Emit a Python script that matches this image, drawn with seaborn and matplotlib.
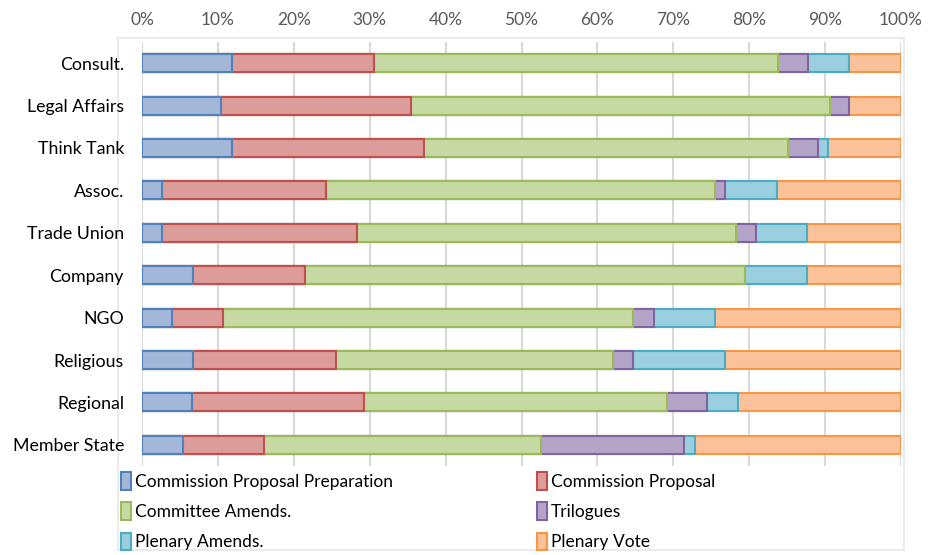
import matplotlib
matplotlib.use("Agg")
import matplotlib.pyplot as plt
from matplotlib.patches import Patch, Rectangle
import seaborn as sns
import pandas as pd
import numpy as np

categories = ["Consult.", "Legal Affairs", "Think Tank", "Assoc.", "Trade Union",
              "Company", "NGO", "Religious", "Regional", "Member State"]
stages = ["Commission Proposal Preparation", "Commission Proposal", "Committee Amends.",
          "Trilogues", "Plenary Amends.", "Plenary Vote"]

# share of each stage (%) per category
prop_prep = [11.9, 10.4, 11.9, 2.6, 2.6, 6.7, 4.0, 6.7, 6.6, 5.4]
prop      = [18.7, 25.0, 25.3, 21.6, 25.7, 14.8, 6.7, 18.9, 22.6, 10.7]
committee = [53.2, 55.2, 47.9, 51.3, 49.9, 58.0, 54.0, 36.4, 40.0, 36.5]
trilogues = [4.0, 2.6, 4.0, 1.3, 2.7, 0.0, 2.7, 2.7, 5.3, 18.8]
plen_amd  = [5.3, 0.0, 1.3, 6.8, 6.7, 8.1, 8.1, 12.1, 4.0, 1.4]
plen_vote = [6.9, 6.8, 9.6, 16.4, 12.4, 12.4, 24.5, 23.2, 21.5, 27.2]

fills = ["#A3B7D9", "#DB9C9A", "#C6D9A3", "#B4A5C8", "#9ACFDF", "#FBC29A"]
edges = ["#4F81BD", "#C0504D", "#9BBB59", "#8064A2", "#4BACC6", "#F79646"]

df = pd.DataFrame({"category": categories})
series = [prop_prep, prop, committee, trilogues, plen_amd, plen_vote]
cum = np.cumsum(np.array(series), axis=0)
for i, s in enumerate(stages):
    df[s] = cum[i]
# normalise last column to exactly 100
df[stages[-1]] = 100.0

plt.rcParams["font.family"] = ["Lato", "DejaVu Sans"]

fig = plt.figure(figsize=(9.38, 5.55), dpi=100)
ax = fig.add_axes([142 / 938, 1 - 466 / 555, 759 / 938, 424 / 555])

# overlap cumulative bars, longest first
for i in reversed(range(len(stages))):
    sns.barplot(data=df, x=stages[i], y="category", order=categories, orient="h",
                color=fills[i], edgecolor=edges[i], linewidth=1.5, width=0.42,
                saturation=1, ax=ax, zorder=3)

ax.set_xlim(0, 100)
ax.set_ylim(len(categories) - 0.5, -0.5)
ax.set_xticks(np.arange(0, 101, 10))
ax.set_xticklabels([f"{v}%" for v in range(0, 101, 10)])
ax.xaxis.tick_top()
ax.tick_params(axis="x", length=0, labelsize=12.5, colors="#595959", pad=10)
ax.tick_params(axis="y", length=0, labelsize=12.8, colors="black", pad=13)
ax.set_xlabel("")
ax.set_ylabel("")
ax.grid(axis="x", color="#D9D9D9", linewidth=1.5, zorder=0)
ax.set_axisbelow(True)
for sp in ax.spines.values():
    sp.set_visible(False)

# outer frame around plot area (behind the text)
fig.patches.append(Rectangle((118 / 938, 1 - 550 / 555), 786 / 938, 512 / 555,
                             transform=fig.transFigure, fill=False,
                             edgecolor="#EBEBEB", linewidth=1.5, zorder=-1))

handles = [Patch(facecolor=fills[i], edgecolor=edges[i], linewidth=1.5, label=stages[i])
           for i in range(len(stages))]
order = [0, 2, 4, 1, 3, 5]
fig.legend([handles[i] for i in order], [stages[i] for i in order], ncol=2,
           loc="upper left", bbox_to_anchor=(114 / 938, 1 - 465 / 555),
           frameon=False, fontsize=12.5, handlelength=0.6, handleheight=1.2,
           handletextpad=0.2, labelspacing=0.72, columnspacing=8.3,
           borderaxespad=0)

fig.savefig("out.png", dpi=100)
